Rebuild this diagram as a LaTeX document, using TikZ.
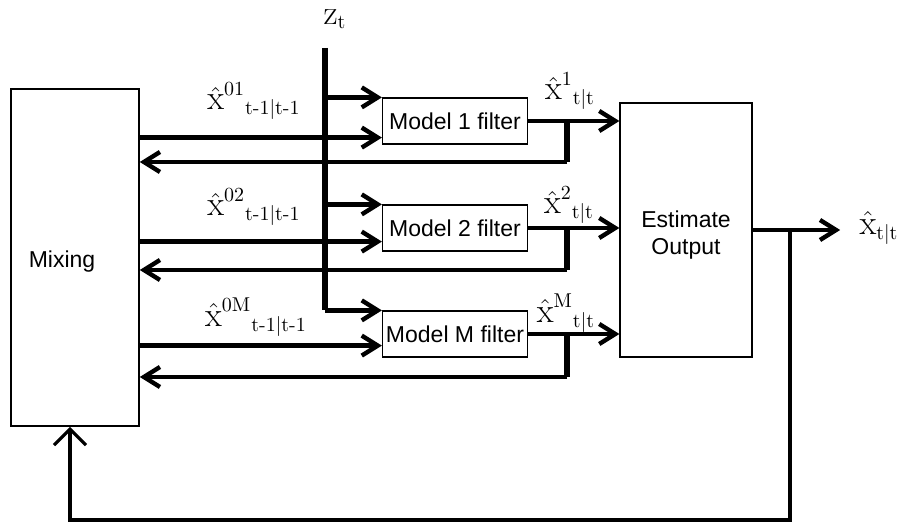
\documentclass[tikz,border=0pt]{standalone}
\usepackage{amsmath}
\usepackage{fontspec}
\newfontfamily\arialfont{Liberation Sans}
\usetikzlibrary{arrows.meta,calc}
\newcommand{\bigx}{\hat{\text{\LARGE x}}}

\begin{document}
\begin{tikzpicture}[x=0.5pt, y=-0.5pt, >={Straight Barb[length=8pt,width=10pt]},
    font=\arialfont\fontsize{11.5}{13.5}\selectfont]
    \tikzset{box/.style={draw, line width=0.6pt, align=center, inner sep=0pt, minimum width=72.5pt, minimum height=23pt},
             flow/.style={->, line width=2.2pt},
             jbar/.style={line width=3.2pt},
             lbl/.style={font=\normalfont\Large, inner sep=0pt}}
    \useasboundingbox (0,0) rectangle (901,523);

    % blocks
    \node[box, line width=0.8pt, minimum width=64pt, minimum height=168.5pt] (mix) at (75,257.5) {};
    \node (mixtxt) at (62,262) {Mixing};
    \node[box] (m1) at (455,121) {Model 1 filter};
    \node[box] (m2) at (455,228) {Model 2 filter};
    \node[box] (mM) at (455,334) {Model M filter};
    \node[box, minimum width=66pt, minimum height=127pt] (est) at (686,230) {};
    \node[align=center] (esttxt) at (686,235) {Estimate\\Output};

    % labels
    \node[lbl] (zt) at (335,19) {$\text{\LARGE z}_{\mathrm{t}}$};
    \node[lbl] (in1) at (254,101) {$\bigx^{01}{}_{\text{t-1|t-1}}$};
    \node[lbl] (in2) at (254,207) {$\bigx^{02}{}_{\text{t-1|t-1}}$};
    \node[lbl] (inM) at (256,317) {$\bigx^{0\mathrm{M}}{}_{\text{t-1|t-1}}$};
    \node[lbl] (out1) at (570,91) {$\bigx^{1}{}_{\text{t|t}}$};
    \node[lbl] (out2) at (569,205) {$\bigx^{2}{}_{\text{t|t}}$};
    \node[lbl] (outM) at (566,313) {$\bigx^{\mathrm{M}}{}_{\text{t|t}}$};
    \node[lbl] (xout) at (879,228) {$\bigx_{\text{t|t}}$};

    % measurement bus
    \coordinate (zbus) at (325,48);
    \draw[line width=2.6pt] (zbus) -- (zbus |- mM.north west);
    \draw[flow] (zbus |- m1.north west) -- (m1.north west);
    \draw[flow] (zbus |- m2.north west) -- (m2.north west);
    \draw[flow] (zbus |- mM.north west) -- (mM.north west);

    % mixed inputs
    \coordinate (m1in) at ($(m1.south west)+(0,-7)$);
    \coordinate (m2in) at ($(m2.south west)+(0,-10)$);
    \coordinate (mMin) at ($(mM.south west)+(0,-12)$);
    \draw[flow] (mix.east |- m1in) -- (m1in);
    \draw[flow] (mix.east |- m2in) -- (m2in);
    \draw[flow] (mix.east |- mMin) -- (mMin);

    % filter outputs and returns
    \coordinate (r1) at (567,162);
    \coordinate (r2) at (567,270);
    \coordinate (rM) at (567,377);
    \draw[flow] (m1.east) -- (m1.east -| est.west);
    \draw[flow] (m2.east) -- (m2.east -| est.west);
    \draw[flow] (mM.east) -- (mM.east -| est.west);
    \draw[jbar] (m1.east -| r1) -- (r1);
    \draw[jbar] (m2.east -| r2) -- (r2);
    \draw[jbar] (mM.east -| rM) -- (rM);
    \draw[flow] (r1) -- (r1 -| mix.east);
    \draw[flow] (r2) -- (r2 -| mix.east);
    \draw[flow] (rM) -- (rM -| mix.east);

    % output and feedback
    \coordinate (fb) at (790,520);
    \draw[flow] (est.east) -- ($(xout.west |- est.east)+(-19,0)$);
    \draw[line width=1.6pt, -{Straight Barb[length=8pt,width=16pt]}] (est.east -| fb) -- (fb) -| ([xshift=-2.5pt]mix.south);
\end{tikzpicture}
\end{document}
